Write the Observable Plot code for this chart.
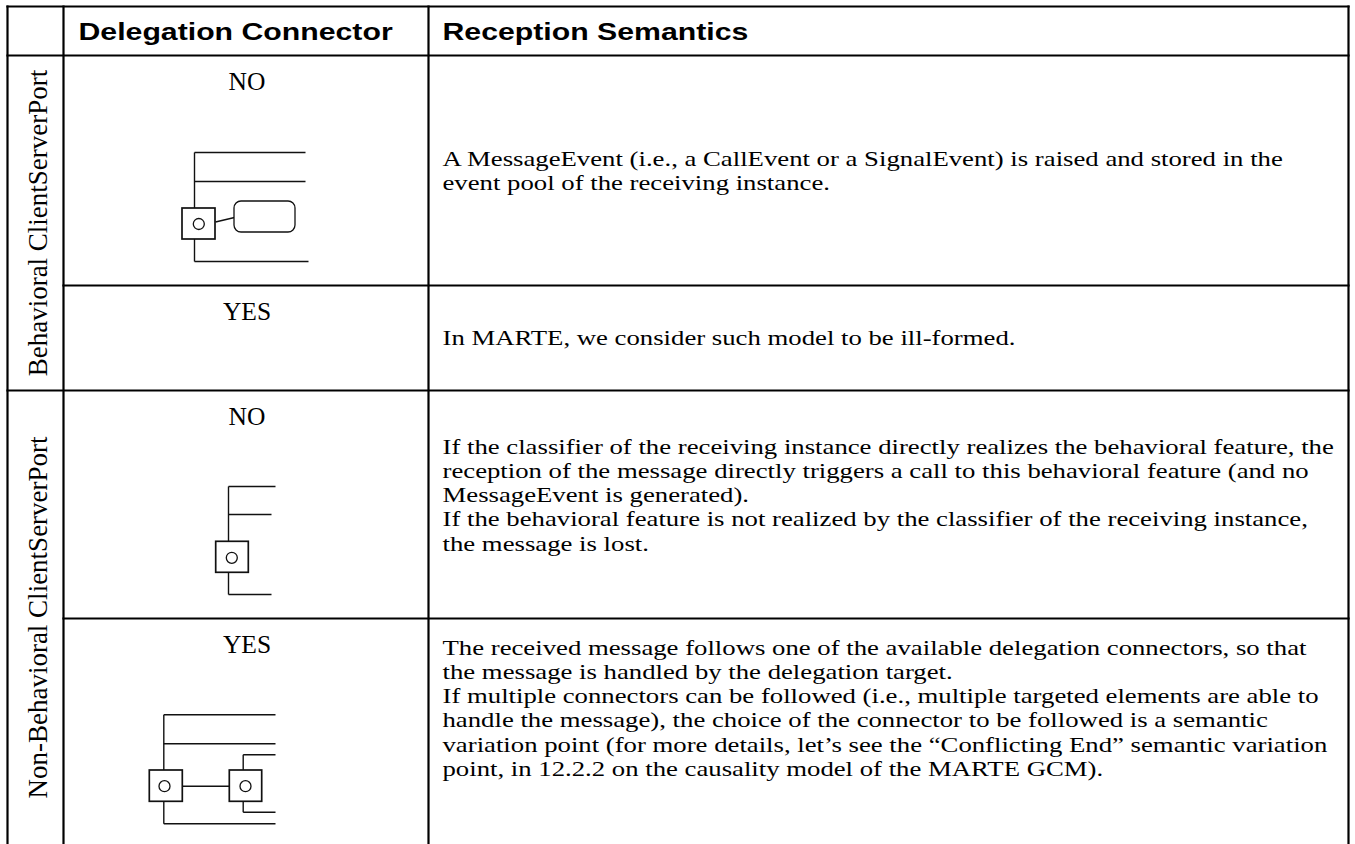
<!DOCTYPE html>
<html>
<head>
<meta charset="utf-8">
<script src="https://cdn.jsdelivr.net/npm/d3@7"></script>
<script src="https://cdn.jsdelivr.net/npm/@observablehq/plot@0.6"></script>
<style>
  html, body { margin: 0; padding: 0; background: #fff; overflow: hidden; }
</style>
</head>
<body>
<div id="chart"></div>
<script>
// ---------- DATA ----------
const headers = ["Delegation Connector", "Reception Semantics"];
const groups = ["Behavioral ClientServerPort", "Non-Behavioral ClientServerPort"];
const rowGroup = [0, 0, 1, 1];
const delegationValues = ["NO", "YES", "NO", "YES"];
const rowDiagram = ["portToBehavior", null, "portOnly", "portDelegation"];
const semanticsRow1 = [
  "A MessageEvent (i.e., a CallEvent or a SignalEvent) is raised and stored in the",
  "event pool of the receiving instance."
];
const semanticsRow2 = [
  "In MARTE, we consider such model to be ill-formed."
];
const semanticsRow3 = [
  "If the classifier of the receiving instance directly realizes the behavioral feature, the",
  "reception of the message directly triggers a call to this behavioral feature (and no",
  "MessageEvent is generated).",
  "If the behavioral feature is not realized by the classifier of the receiving instance,",
  "the message is lost."
];
const semanticsRow4 = [
  "The received message follows one of the available delegation connectors, so that",
  "the message is handled by the delegation target.",
  "If multiple connectors can be followed (i.e., multiple targeted elements are able to",
  "handle the message), the choice of the connector to be followed is a semantic",
  "variation point (for more details, let\u2019s see the \u201cConflicting End\u201d semantic variation",
  "point, in 12.2.2 on the causality model of the MARTE GCM)."
];
const semantics = [semanticsRow1, semanticsRow2, semanticsRow3, semanticsRow4];

// ---------- LAYOUT ----------
const W = 1355, H = 844;
const colX = [7, 63, 428, 1348];
const rowY = [6, 55, 285, 390, 618, 846];
const firstBaselineOffset = [110, 59, 63, 36];
const lineStep = 24.3;
const serif = "'Liberation Serif', 'Times New Roman', serif";
const sans = "'Liberation Sans', Arial, sans-serif";
const bodyStretch = 1.215;
const headerStretch = 1.26;

// diagram shapes relative to the connector cell's top-left corner
const diagramShapes = {
  portToBehavior: {
    lines: [[131, 97, 131, 206], [131, 97, 242, 97], [131, 126, 242, 126], [131, 206, 245, 206], [152, 166.5, 171, 162]],
    boxes: [[119, 153, 152, 184]],
    rounded: [[171, 146, 232, 177]],
    circles: [[135.3, 168.5]]
  },
  portOnly: {
    lines: [[165, 96, 165, 204], [165, 96, 212, 96], [165, 124, 208, 124], [165, 204, 208, 204]],
    boxes: [[152.7, 151.3, 185.3, 182.3]],
    rounded: [],
    circles: [[168.3, 167.3]]
  },
  portDelegation: {
    lines: [[100.3, 96.3, 100.3, 205.3], [100.3, 96.3, 212, 96.3], [100.3, 125.3, 212, 125.3], [100.3, 205.3, 212, 205.3],
            [119.3, 167.7, 166.3, 167.7],
            [179.7, 136.3, 179.7, 193.7], [179.7, 136.3, 212, 136.3], [179.7, 193.7, 212, 193.7]],
    boxes: [[86.3, 152, 119.3, 183.3], [166.3, 152, 198.7, 183.3]],
    rounded: [],
    circles: [[101, 167.7], [182, 167.7]]
  }
};

// ---------- BUILD TABLES FOR MARKS ----------
const rowTop = i => rowY[i + 1];
const rowBottom = i => rowY[i + 2];

const borders = [];
borders.push({x1: colX[0], x2: colX[3], y1: rowY[0], y2: rowY[0]});
borders.push({x1: colX[0], x2: colX[3], y1: rowY[1], y2: rowY[1]});
for (let i = 0; i < delegationValues.length - 1; i++) {
  const sameGroup = rowGroup[i] === rowGroup[i + 1];
  const y = rowBottom(i);
  borders.push({x1: sameGroup ? colX[1] : colX[0], x2: colX[3], y1: y, y2: y});
}
for (const x of colX) borders.push({x1: x, x2: x, y1: rowY[0], y2: rowY[rowY.length - 1]});

const headerText = headers.map((h, j) => ({text: h, x: colX[j + 1] + (j === 0 ? 15 : 14), y: rowY[0] + 33}));

const groupText = groups.map((g, gi) => {
  const idx = rowGroup.map((v, i) => v === gi ? i : -1).filter(i => i >= 0);
  const y0 = rowTop(idx[0]), y1 = Math.min(rowBottom(idx[idx.length - 1]), H);
  return {text: g, x: (colX[0] + colX[1]) / 2 + 3, y: (y0 + y1) / 2};
});

const valueText = delegationValues.map((v, i) => ({text: v, x: (colX[1] + colX[2]) / 2 + 1, y: rowTop(i) + 34}));

const semText = [];
semantics.forEach((lines, i) => lines.forEach((t, k) => semText.push({text: t, x: colX[2] + 14, y: rowTop(i) + firstBaselineOffset[i] + k * lineStep})));

const dLines = [], dBoxes = [], dRounded = [], dCircles = [];
rowDiagram.forEach((name, i) => {
  if (!name) return;
  const s = diagramShapes[name];
  const ox = colX[1], oy = rowTop(i);
  s.lines.forEach(([a, b, c, d]) => dLines.push({x1: ox + a, y1: oy + b, x2: ox + c, y2: oy + d}));
  s.boxes.forEach(([a, b, c, d]) => dBoxes.push({x1: ox + a, y1: oy + b, x2: ox + c, y2: oy + d}));
  s.rounded.forEach(([a, b, c, d]) => dRounded.push({x1: ox + a, y1: oy + b, x2: ox + c, y2: oy + d}));
  s.circles.forEach(([a, b]) => dCircles.push({x: ox + a, y: oy + b}));
});

// ---------- PLOT ----------
const chart = Plot.plot({
  width: W,
  height: H,
  margin: 0,
  x: {type: "linear", domain: [0, W], range: [0, W], axis: null},
  y: {type: "linear", domain: [0, H], range: [0, H], axis: null},
  style: {background: "white", color: "black"},
  marks: [
    // diagrams
    Plot.link(dLines, {x1: "x1", y1: "y1", x2: "x2", y2: "y2", stroke: "#111", strokeWidth: 1.4}),
    Plot.rect(dRounded, {x1: "x1", x2: "x2", y1: "y1", y2: "y2", fill: "white", stroke: "#111", strokeWidth: 1.3, rx: 7}),
    Plot.rect(dBoxes, {x1: "x1", x2: "x2", y1: "y1", y2: "y2", fill: "white", stroke: "#111", strokeWidth: 1.7}),
    Plot.dot(dCircles, {x: "x", y: "y", r: 5.5, stroke: "#111", strokeWidth: 1.3, fill: "none"}),
    // table borders
    Plot.link(borders, {x1: "x1", y1: "y1", x2: "x2", y2: "y2", stroke: "black", strokeWidth: 2.2, strokeLinecap: "square"}),
    // texts
    Plot.text(headerText, {x: "x", y: "y", text: "text", textAnchor: "start", lineAnchor: "bottom", fontFamily: sans, fontWeight: "bold", fontSize: 24, fill: "black"}),
    Plot.text(groupText, {x: "x", y: "y", text: "text", rotate: -90, textAnchor: "middle", lineAnchor: "middle", fontFamily: serif, fontSize: 27, fill: "black"}),
    Plot.text(valueText, {x: "x", y: "y", text: "text", textAnchor: "middle", lineAnchor: "bottom", fontFamily: serif, fontSize: 25.5, fill: "black"}),
    Plot.text(semText, {x: "x", y: "y", text: "text", textAnchor: "start", lineAnchor: "bottom", fontFamily: serif, fontSize: 22, fill: "black"})
  ]
});
document.getElementById("chart").appendChild(chart);

// widen the header and body lines, as in the source table (expanded character spacing)
const stretchTexts = (strings, factor) => {
  const set = new Set(strings);
  chart.querySelectorAll("text").forEach(el => {
    if (!set.has(el.textContent)) return;
    const len = el.getComputedTextLength();
    el.setAttribute("textLength", (len * factor).toFixed(2));
    el.setAttribute("lengthAdjust", "spacingAndGlyphs");
  });
};
stretchTexts(headers, headerStretch);
stretchTexts(semText.map(d => d.text), bodyStretch);
</script>
</body>
</html>
